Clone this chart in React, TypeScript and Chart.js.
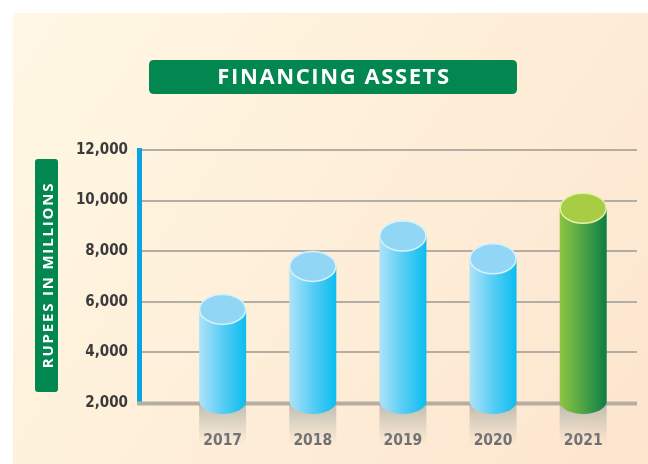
import React, { useEffect, useRef } from 'react';
import { Chart, registerables } from 'chart.js';

Chart.register(...registerables);

// ---- data ----
const years: string[] = ['2017', '2018', '2019', '2020', '2021'];
const financingAssets: number[] = [5700, 7400, 8600, 7700, 9700];
const yTickValues: number[] = [2000, 4000, 6000, 8000, 10000, 12000];
const chartTitle = 'FINANCING ASSETS';
const yAxisLabel = 'RUPEES IN MILLIONS';
const highlightYear = '2021';
const baseValue = 2000;

const W = 648;
const H = 464;
const GREEN_BOX = '#01874f';
const NUM_FONT = "'DejaVu Sans Condensed', 'Liberation Sans Narrow', 'Liberation Sans', sans-serif";
const HEAD_FONT = "'Open Sans', 'DejaVu Sans', sans-serif";

function roundRect(ctx: CanvasRenderingContext2D, x: number, y: number, w: number, h: number, r: number) {
  ctx.beginPath();
  ctx.moveTo(x + r, y);
  ctx.lineTo(x + w - r, y);
  ctx.quadraticCurveTo(x + w, y, x + w, y + r);
  ctx.lineTo(x + w, y + h - r);
  ctx.quadraticCurveTo(x + w, y + h, x + w - r, y + h);
  ctx.lineTo(x + r, y + h);
  ctx.quadraticCurveTo(x, y + h, x, y + h - r);
  ctx.lineTo(x, y + r);
  ctx.quadraticCurveTo(x, y, x + r, y);
  ctx.closePath();
}

const backdropPlugin = {
  id: 'backdrop',
  beforeDraw(chart: any) {
    const ctx: CanvasRenderingContext2D = chart.ctx;
    ctx.save();
    ctx.fillStyle = '#ffffff';
    ctx.fillRect(0, 0, W, H);
    const g = ctx.createLinearGradient(13, 13, W, H);
    g.addColorStop(0, '#fff8e4');
    g.addColorStop(1, '#fde5ce');
    ctx.fillStyle = g;
    ctx.fillRect(13, 13, W - 13, H - 13);

    // title box
    roundRect(ctx, 149, 60, 368, 34, 5);
    ctx.fillStyle = GREEN_BOX;
    ctx.fill();
    ctx.fillStyle = '#ffffff';
    ctx.font = `700 22px ${HEAD_FONT}`;
    ctx.textAlign = 'center';
    ctx.textBaseline = 'middle';
    (ctx as any).letterSpacing = '1.6px';
    ctx.fillText(chartTitle, 334, 78);

    // y-axis label box
    roundRect(ctx, 35, 159, 23, 233, 3);
    ctx.fillStyle = GREEN_BOX;
    ctx.fill();
    ctx.translate(47.5, 276);
    ctx.rotate(-Math.PI / 2);
    ctx.fillStyle = '#ffffff';
    ctx.font = `700 15px ${HEAD_FONT}`;
    (ctx as any).letterSpacing = '1.8px';
    ctx.fillText(yAxisLabel, 1, 1);
    ctx.restore();
  },
  beforeDatasetsDraw(chart: any) {
    const ctx: CanvasRenderingContext2D = chart.ctx;
    const y = chart.scales.y.getPixelForValue(baseValue);
    const { left, right } = chart.chartArea;
    ctx.save();
    ctx.fillStyle = '#b8ae9f';
    ctx.fillRect(left - 2, y - 1.5, right - left + 2, 4);
    ctx.restore();
  },
};

const cylinderPlugin = {
  id: 'cylinders',
  afterDatasetsDraw(chart: any) {
    const ctx: CanvasRenderingContext2D = chart.ctx;
    const meta = chart.getDatasetMeta(0);
    meta.data.forEach((bar: any, i: number) => {
      const { x, y, base, width } = bar.getProps(['x', 'y', 'base', 'width'], true);
      const rx = width / 2;
      const ry = 15;
      const left = x - rx;
      const right = x + rx;
      const green = years[i] === highlightYear;
      const bottomY = base - 1;
      ctx.save();
      // reflection
      const rg = ctx.createLinearGradient(0, bottomY, 0, bottomY + 44);
      rg.addColorStop(0, 'rgba(140,150,145,0.6)');
      rg.addColorStop(1, 'rgba(160,165,160,0)');
      ctx.fillStyle = rg;
      ctx.fillRect(left, bottomY, width, 44);

      // body
      const bg = ctx.createLinearGradient(left, 0, right, 0);
      if (green) {
        bg.addColorStop(0, '#8dc540');
        bg.addColorStop(0.5, '#4ea447');
        bg.addColorStop(1, '#0b7d44');
      } else {
        bg.addColorStop(0, '#aee3f9');
        bg.addColorStop(0.5, '#58cdf4');
        bg.addColorStop(1, '#0bbdf0');
      }
      ctx.beginPath();
      ctx.moveTo(left, y);
      ctx.lineTo(left, bottomY);
      ctx.ellipse(x, bottomY, rx, ry - 2, 0, Math.PI, 0, true);
      ctx.lineTo(right, y);
      ctx.closePath();
      ctx.fillStyle = bg;
      ctx.fill();

      // top
      ctx.beginPath();
      ctx.ellipse(x, y, rx - 0.5, ry, 0, 0, Math.PI * 2);
      ctx.fillStyle = green ? '#a8cd44' : '#92d6f6';
      ctx.fill();
      ctx.lineWidth = 1.5;
      ctx.strokeStyle = green ? '#e4f1ad' : '#d7f1fb';
      ctx.stroke();
      ctx.restore();
    });
  },
};

export default function App() {
  const ref = useRef<HTMLCanvasElement | null>(null);

  useEffect(() => {
    if (!ref.current) return;
    const chart = new Chart(ref.current, {
      type: 'bar',
      data: {
        datasets: [
          {
            data: years.map((_, i) => ({ x: i, y: financingAssets[i] })) as any,
            base: baseValue,
            backgroundColor: 'rgba(0,0,0,0)',
            borderWidth: 0,
            barThickness: 47,
          } as any,
        ],
      },
      options: {
        animation: false,
        responsive: false,
        maintainAspectRatio: false,
        events: [],
        layout: { padding: { top: 150, right: 11, left: 0, bottom: 0 } },
        plugins: {
          legend: { display: false },
          tooltip: { enabled: false },
          title: { display: false },
        },
        scales: {
          x: {
            type: 'linear',
            min: -0.928,
            max: 4.597,
            offset: false,
            grid: { display: false, drawTicks: false, offset: false },
            border: { display: false },
            afterBuildTicks: (s: any) => {
              s.ticks = years.map((_, i) => ({ value: i }));
            },
            afterFit: (s: any) => {
              s.height = 61;
            },
            ticks: {
              autoSkip: false,
              maxRotation: 0,
              padding: 29,
              color: '#6d6e71',
              font: { family: NUM_FONT, size: 15.5, weight: 'bold' },
              callback: (v: any) => years[v as number] ?? '',
            },
          },
          y: {
            min: 2000,
            max: 12000,
            afterBuildTicks: (s: any) => {
              s.ticks = yTickValues.map((v) => ({ value: v }));
            },
            afterFit: (s: any) => {
              s.width = 139;
            },
            grid: {
              drawTicks: false,
              lineWidth: 2,
              color: (c: any) => (c.tick && c.tick.value === baseValue ? 'rgba(0,0,0,0)' : '#b2ada5'),
            },
            border: { display: true, color: '#0aa3e3', width: 5 },
            ticks: {
              padding: 11,
              color: '#3b3b3c',
              font: { family: NUM_FONT, size: 15, weight: 'bold' },
              callback: (v: any) => Number(v).toLocaleString('en-US'),
            },
          },
        },
      } as any,
      plugins: [backdropPlugin, cylinderPlugin],
    });
    return () => chart.destroy();
  }, []);

  return (
    <div style={{ position: 'fixed', left: 0, top: 0, width: W, height: H, background: '#fff' }}>
      <canvas ref={ref} width={W} height={H} style={{ display: 'block', width: W, height: H }} />
    </div>
  );
}
